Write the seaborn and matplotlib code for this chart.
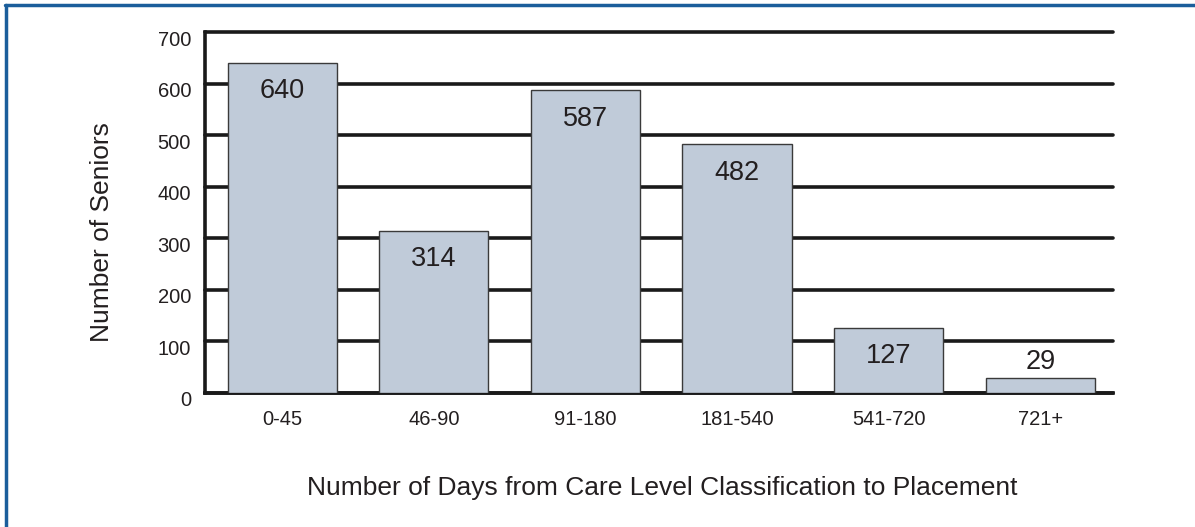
import matplotlib
matplotlib.use("Agg")
import matplotlib.pyplot as plt
import matplotlib.transforms as mtransforms
import seaborn as sns
import pandas as pd
from matplotlib.lines import Line2D

# Data
day_ranges = ["0-45", "46-90", "91-180", "181-540", "541-720", "721+"]
seniors = [640, 314, 587, 482, 127, 29]
y_ticks = [0, 100, 200, 300, 400, 500, 600, 700]

df = pd.DataFrame({"days": day_ranges, "seniors": seniors})

sns.set_style("white")
plt.rcParams["font.family"] = ["Liberation Sans", "DejaVu Sans"]

W, H = 1195, 527
fig = plt.figure(figsize=(W / 100, H / 100), dpi=100)
ax = fig.add_axes([205 / W, 1 - 393 / H, (1113 - 205) / W, (393 - 32) / H])

sns.barplot(data=df, x="days", y="seniors", color="#c0cbd9", saturation=1,
            edgecolor="#3a3a3a", linewidth=1.0, width=0.72, ax=ax, zorder=3)

ax.set_ylim(0, 700)
ax.set_xlim(-0.51, 5.48)
ax.set_yticks(y_ticks)
ax.yaxis.grid(True, color="#1a1a1a", linewidth=2.6)
for gl in ax.get_ygridlines():
    gl.set_clip_on(False)
ax.set_axisbelow(True)
ax.tick_params(axis="both", length=0, labelsize=14.5, colors="#231f20")
ax.tick_params(axis="y", pad=10)
ax.tick_params(axis="x", pad=12)

# y tick labels sit a little below their gridline in the reference
shift = mtransforms.ScaledTranslation(0, -6 / 100, fig.dpi_scale_trans)
for lbl in ax.get_yticklabels():
    lbl.set_transform(lbl.get_transform() + shift)

for side in ["top", "right"]:
    ax.spines[side].set_visible(False)
for side in ["left", "bottom"]:
    ax.spines[side].set_color("#1a1a1a")
    ax.spines[side].set_linewidth(2.6)

# Value labels: inside the bar top, above it if the bar is too short
for i, v in enumerate(seniors):
    y = v - 55 if v > 80 else v + 31
    ax.text(i, y, str(v), ha="center", va="center", fontsize=19.5, color="#231f20")

ax.set_xlabel("")
ax.set_ylabel("")
fig.text(662 / W, 1 - 488 / H, "Number of Days from Care Level Classification to Placement",
         ha="center", va="center", fontsize=19, color="#231f20")
fig.text(102 / W, 1 - 232 / H, "Number of Seniors", rotation=90,
         ha="center", va="center", fontsize=19, color="#231f20")

# Blue frame around the figure (left and top)
blue = "#1b5e9b"
fig.add_artist(Line2D([6 / W, 6 / W], [0, 1 - 5 / H], color=blue, linewidth=2.5,
                      transform=fig.transFigure))
fig.add_artist(Line2D([5 / W, 1], [1 - 5 / H, 1 - 5 / H], color=blue, linewidth=2.5,
                      transform=fig.transFigure))

fig.savefig("out.png", dpi=100)
plt.close(fig)
